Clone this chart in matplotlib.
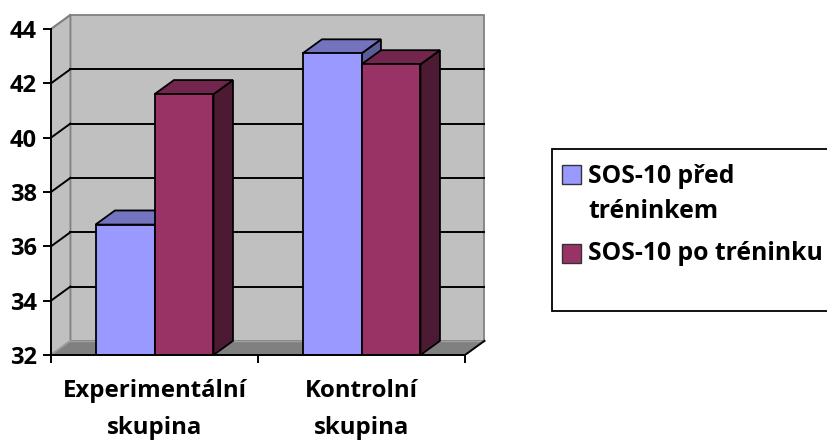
import matplotlib
matplotlib.use("Agg")
import matplotlib.pyplot as plt
from matplotlib.patches import Polygon, Rectangle

plt.rcParams['font.family'] = ['Open Sans', 'DejaVu Sans']
plt.rcParams['font.weight'] = 'bold'

categories = ["Experimentální\nskupina", "Kontrolní\nskupina"]
series_names = ["SOS-10 před\ntréninkem", "SOS-10 po tréninku"]
before = [36.8, 43.1]
after = [41.6, 42.7]
y_ticks = [32, 34, 36, 38, 40, 42, 44]

front_colors = ["#9999FF", "#993366"]
top_colors = ["#7373BF", "#73264D"]
side_colors = ["#5C5C99", "#4D1A33"]

W, H = 827, 443
fig = plt.figure(figsize=(W / 100, H / 100), dpi=100)
fig.patch.set_facecolor("white")

# front plane: x 0..2 (category units), y 32..44 ; depth offset DX, DY
ymin, ymax = 32, 44
DX, DY = 0.094, 0.52
ax = fig.add_axes([51 / W, 88 / H, 434.7 / W, 342.3 / H])
ax.set_xlim(0, 2 + DX + 0.006)
ax.set_ylim(ymin, ymax + DY + 0.08)
ax.patch.set_visible(False)

wall = "#C0C0C0"
edge_gray = "#808080"

# back wall
ax.add_patch(Rectangle((DX, ymin + DY), 2, ymax - ymin, facecolor=wall,
                       edgecolor=edge_gray, lw=1.3, zorder=1))
# left side wall
ax.add_patch(Polygon([(0, ymin), (DX, ymin + DY), (DX, ymax + DY), (0, ymax)],
                     closed=True, facecolor=wall, edgecolor=edge_gray, lw=1.3, zorder=1))
# floor
ax.add_patch(Polygon([(0, ymin), (2, ymin), (2 + DX, ymin + DY), (DX, ymin + DY)],
                     closed=True, facecolor="#808080", edgecolor="none", zorder=1.5))
ax.plot([DX, 2 + DX], [ymin + DY, ymin + DY], color="#A0A0A0", lw=1.0, zorder=1.6)
ax.plot([0, DX], [ymin, ymin + DY], color="#A0A0A0", lw=1.0, zorder=1.6)
ax.plot([2, 2 + DX], [ymin, ymin + DY], color="black", lw=1.4, zorder=1.7)

# gridlines on back and side walls
for v in y_ticks[1:-1]:
    ax.plot([DX, 2 + DX], [v + DY, v + DY], color="black", lw=1.4, zorder=2)
    ax.plot([0, DX], [v, v + DY], color="black", lw=1.4, zorder=2)
ax.plot([0, DX], [ymax, ymax + DY], color=edge_gray, lw=1.3, zorder=2)

# 3D-style clustered columns
bw = 0.285
centers = [0.5, 1.5]
for si, vals in enumerate([before, after]):
    for ci, v in enumerate(vals):
        x0 = centers[ci] - bw + si * bw
        z = 3 + ci * 2 + si * 0.5
        ax.bar(x0, v - ymin, width=bw, bottom=ymin, align="edge",
               color=front_colors[si], edgecolor="black", lw=1.3, zorder=z + 0.3)
        ax.add_patch(Polygon([(x0, v), (x0 + bw, v), (x0 + bw + DX, v + DY), (x0 + DX, v + DY)],
                             closed=True, facecolor=top_colors[si], edgecolor="black",
                             lw=1.3, zorder=z + 0.2))
        ax.add_patch(Polygon([(x0 + bw, ymin), (x0 + bw + DX, ymin + DY),
                              (x0 + bw + DX, v + DY), (x0 + bw, v)],
                             closed=True, facecolor=side_colors[si], edgecolor="black",
                             lw=1.3, zorder=z + 0.1))

# axes lines and ticks
for s in ["top", "right"]:
    ax.spines[s].set_visible(False)
ax.spines["left"].set_bounds(ymin, ymax)
ax.spines["bottom"].set_bounds(0, 2)
for s in ["left", "bottom"]:
    ax.spines[s].set_linewidth(1.4)
    ax.spines[s].set_zorder(20)

ax.set_yticks(y_ticks)
ax.set_yticklabels([str(t) for t in y_ticks])
ax.tick_params(axis="y", length=6, width=1.4, pad=4, labelsize=17)

ax.set_xticks([0, 1, 2], minor=True)
ax.set_xticks(centers)
ax.set_xticklabels(categories)
ax.tick_params(axis="x", which="minor", length=6, width=1.4, direction="out")
ax.tick_params(axis="x", which="major", length=0, pad=17, labelsize=17.3)
for lab in ax.get_xticklabels():
    lab.set_linespacing(1.75)
for lab in ax.get_xticklabels() + ax.get_yticklabels():
    lab.set_fontweight("bold")

# legend
def fx(px):
    return px / W

def fy(py):
    return 1 - py / H

fig.add_artist(Rectangle((fx(552), fy(311)), fx(900) - fx(552), fy(149) - fy(311),
                         transform=fig.transFigure, facecolor="white",
                         edgecolor="black", lw=1.3))
marker_tops = [165, 244]
baselines = [[183, 218], [260]]
for i, name in enumerate(series_names):
    fig.add_artist(Rectangle((fx(562), fy(marker_tops[i] + 19)), fx(19), 19 / H,
                             transform=fig.transFigure, facecolor=front_colors[i],
                             edgecolor="#333333", lw=1.0))
    for line, b in zip(name.split("\n"), baselines[i]):
        fig.text(fx(588), fy(b), line, fontsize=17.8, fontweight="bold",
                 va="baseline", ha="left")

fig.savefig("out.png", dpi=100)
